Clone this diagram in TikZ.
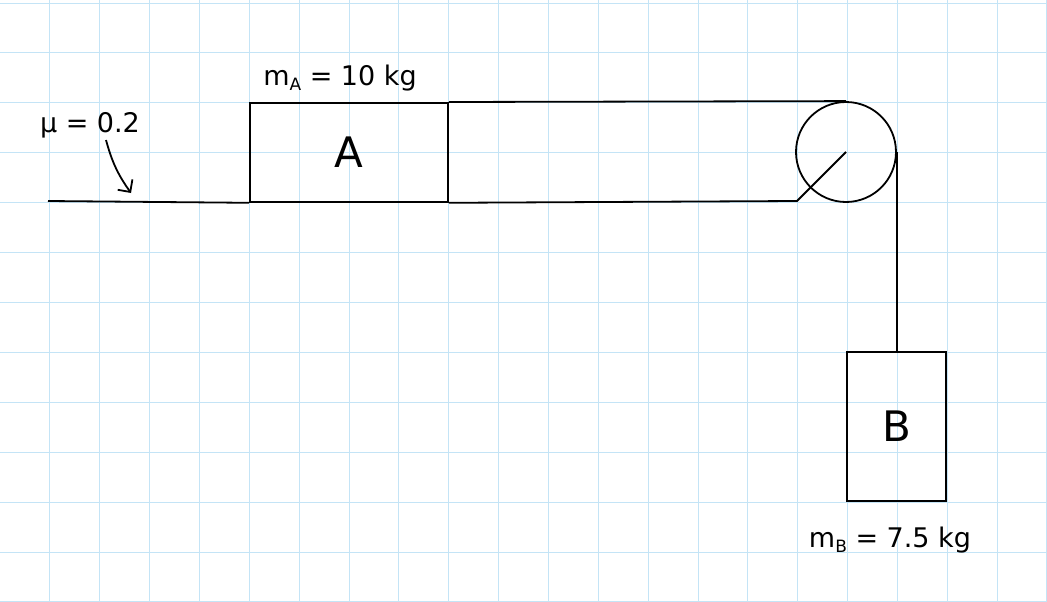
\documentclass[tikz,border=0pt]{standalone}
\usepackage{fontspec}
\setmainfont{DejaVu Sans}
\usetikzlibrary{arrows.meta}
\definecolor{gridc}{RGB}{196,228,246}
\newcommand{\lsub}[1]{\raisebox{-0.35ex}{\fontsize{17}{18}\selectfont #1}}
\begin{document}
\begin{tikzpicture}[x=1pt,y=-1pt,
  ink/.style={line width=1.8pt,black},
  lbl/.style={font=\fontsize{27}{30}\selectfont,inner sep=0}]
\useasboundingbox (0,0) rectangle (1047,602);
\fill[white] (0,0) rectangle (1047,602);
\foreach \i in {1,...,21} \draw[gridc,line width=0.8pt] (\i*49.85,0) -- (\i*49.85,602);
\foreach \j in {0,...,12} \draw[gridc,line width=0.8pt] (0,3+\j*49.9) -- (1047,3+\j*49.9);
\node[ink,draw,minimum width=198pt,minimum height=99pt,inner sep=0,anchor=north west,font=\fontsize{42}{44}\selectfont] (A) at (249,102) {A};
\node[ink,draw,minimum width=99pt,minimum height=149pt,inner sep=0,anchor=north west,font=\fontsize{42}{44}\selectfont] (B) at (846,351) {B};
\node[ink,draw,circle,minimum size=100pt,inner sep=0] (P) at (846,152) {};
\coordinate (g0) at (48,201);
\coordinate (g1) at (797,201);
\draw[ink] (g0) -- (A.south west);
\draw[ink] (A.south east) -- (g1) -- (P.center);
\draw[ink] (A.north east) -- (P.north);
\draw[ink] (P.east) -- (B.north -| P.east);
\node[lbl] (mA) at (340,78) {m\lsub{A} = 10 kg};
\node[lbl] (mu) at (90,125) {μ = 0.2};
\coordinate (t) at (131,193);
\draw[ink,-{Straight Barb[length=9pt]}] (106,140) to[bend right=10] (t);
\node[lbl] (mB) at (890,540) {m\lsub{B} = 7.5 kg};
\end{tikzpicture}
\end{document}
